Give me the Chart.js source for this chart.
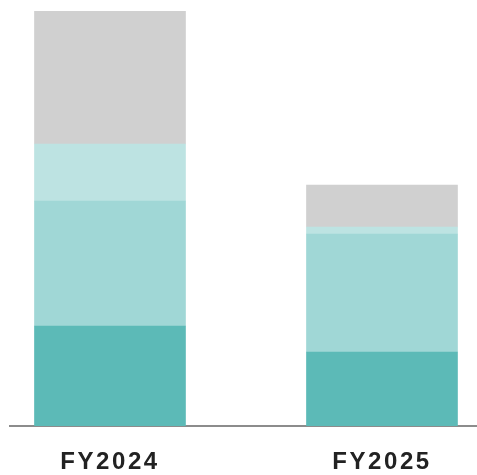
<!DOCTYPE html>
<html>
<head>
<meta charset="utf-8">
<script src="https://cdn.jsdelivr.net/npm/chart.js@4/dist/chart.umd.min.js"></script>
<style>
  html, body { margin: 0; padding: 0; background: #ffffff; }
  #wrap { width: 477px; height: 475px; position: relative; }
</style>
</head>
<body>
<div id="wrap"><canvas id="chart"></canvas></div>
<script>
// Fiscal years on the x axis
const categories = ['FY2024', 'FY2025'];

// Stacked segments, bottom to top
const segDark   = [100, 74];
const segMedium = [125, 118];
const segLight  = [57, 7];
const segGray   = [133, 42];

const segColors = ['#5cbab7', '#a0d7d6', '#bde3e2', '#d0d0d0'];
const segments = [segDark, segMedium, segLight, segGray];

const datasets = segments.map((vals, i) => ({
  data: vals.map((v, j) => ({ x: j, y: v })),
  backgroundColor: segColors[i],
  borderWidth: 0,
  barThickness: 151
}));

// Wider spacing for the bold year labels
const labelSpacing = {
  id: 'labelSpacing',
  beforeDraw(chart) { chart.ctx.letterSpacing = '2.6px'; }
};

new Chart(document.getElementById('chart'), {
  type: 'bar',
  data: { datasets },
  options: {
    responsive: true,
    maintainAspectRatio: false,
    animation: false,
    layout: { padding: { left: 10, right: 0, top: 11, bottom: 0 } },
    plugins: { legend: { display: false }, tooltip: { enabled: false } },
    scales: {
      x: {
        type: 'linear',
        stacked: true,
        offset: false,
        min: -0.3676,
        max: 1.3493,
        afterBuildTicks(scale) {
          scale.ticks = categories.map((_, i) => ({ value: i }));
        },
        afterFit(scale) { scale.height = 49; },
        ticks: {
          callback: (v) => categories[v] ?? '',
          color: '#222222',
          font: { family: "'Liberation Sans', Arial, sans-serif", size: 24, weight: 'bold' },
          padding: 22,
          maxRotation: 0,
          autoSkip: false
        },
        grid: { display: false, drawTicks: false, offset: false },
        border: { display: true, color: '#8c8c8c', width: 2 }
      },
      y: {
        stacked: true,
        display: false,
        min: 0,
        max: 415
      }
    }
  },
  plugins: [labelSpacing]
});
</script>
</body>
</html>
